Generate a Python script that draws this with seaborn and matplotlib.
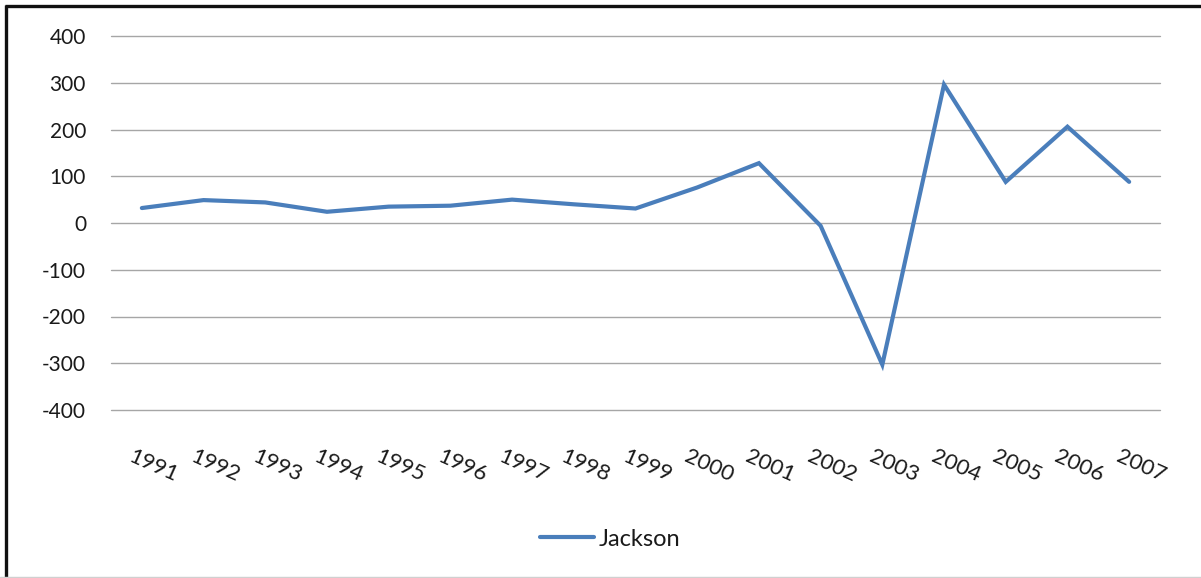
import matplotlib
matplotlib.use("Agg")
import matplotlib.pyplot as plt
import matplotlib.transforms as mtransforms
from matplotlib.lines import Line2D
import seaborn as sns
import pandas as pd
import numpy as np

years = ["1991", "1992", "1993", "1994", "1995", "1996", "1997", "1998", "1999",
         "2000", "2001", "2002", "2003", "2004", "2005", "2006", "2007"]
jackson = [32, 49, 44, 24, 35, 37, 50, 40, 31, 76, 128, -6, -303, 296, 88, 206, 88]
yticks = [-400, -300, -200, -100, 0, 100, 200, 300, 400]

sns.set_theme(style="white")
plt.rcParams['font.family'] = ['Lato', 'DejaVu Sans']

df = pd.DataFrame({"idx": np.arange(len(years)), "value": jackson, "series": "Jackson"})

W, H = 1201, 578
fig = plt.figure(figsize=(W / 100, H / 100), dpi=100)
ax = fig.add_axes([111/W, 1 - 410/H, (1160 - 111)/W, (410 - 36)/H])

sns.lineplot(data=df, x="idx", y="value", hue="series", palette=["#4A7EBB"],
             linewidth=3.0, ax=ax, legend=False, solid_capstyle="round",
             solid_joinstyle="miter")

ax.set_xlim(-0.5, len(years) - 0.5)
ax.set_ylim(-400, 400)
ax.set_yticks(yticks)
ax.set_yticklabels([str(v) for v in yticks], fontsize=15, color="#1a1a1a")
ax.yaxis.grid(True, color="#A6A6A6", linewidth=1.0)
for gl in ax.yaxis.get_gridlines():
    gl.set_clip_on(False)
ax.xaxis.grid(False)
for s in ax.spines.values():
    s.set_visible(False)
ax.tick_params(axis="y", length=0, pad=18)
ax.tick_params(axis="x", length=0, pad=26)
ax.set_xticks(np.arange(len(years)))
ax.set_xticklabels(years, fontsize=16, color="#1a1a1a", rotation=-24,
                   ha="left", va="top", rotation_mode="anchor")
offset = mtransforms.ScaledTranslation(-8/100, 0, fig.dpi_scale_trans)
for lbl in ax.get_xticklabels():
    lbl.set_transform(lbl.get_transform() + offset)
ax.set_xlabel("")
ax.set_ylabel("")

handle = Line2D([0], [0], color="#4A7EBB", linewidth=3.0, solid_capstyle="round")
fig.legend([handle], ["Jackson"], loc="center", bbox_to_anchor=(610/W, 1 - 539/H),
           frameon=False, fontsize=17, handlelength=2.3, handletextpad=0.2,
           labelcolor="#1a1a1a")

# frame: black top and left edges, light grey bottom edge
fig.add_artist(Line2D([5/W, 1], [1 - 6/H, 1 - 6/H], transform=fig.transFigure,
                      color="#111111", linewidth=2.4, solid_capstyle="butt"))
fig.add_artist(Line2D([6/W, 6/W], [0, 1 - 5/H], transform=fig.transFigure,
                      color="#111111", linewidth=2.4, solid_capstyle="butt"))
fig.add_artist(Line2D([0, 1], [1/H, 1/H], transform=fig.transFigure,
                      color="#D0D0D0", linewidth=1.0))

fig.savefig("out.png", dpi=100)
